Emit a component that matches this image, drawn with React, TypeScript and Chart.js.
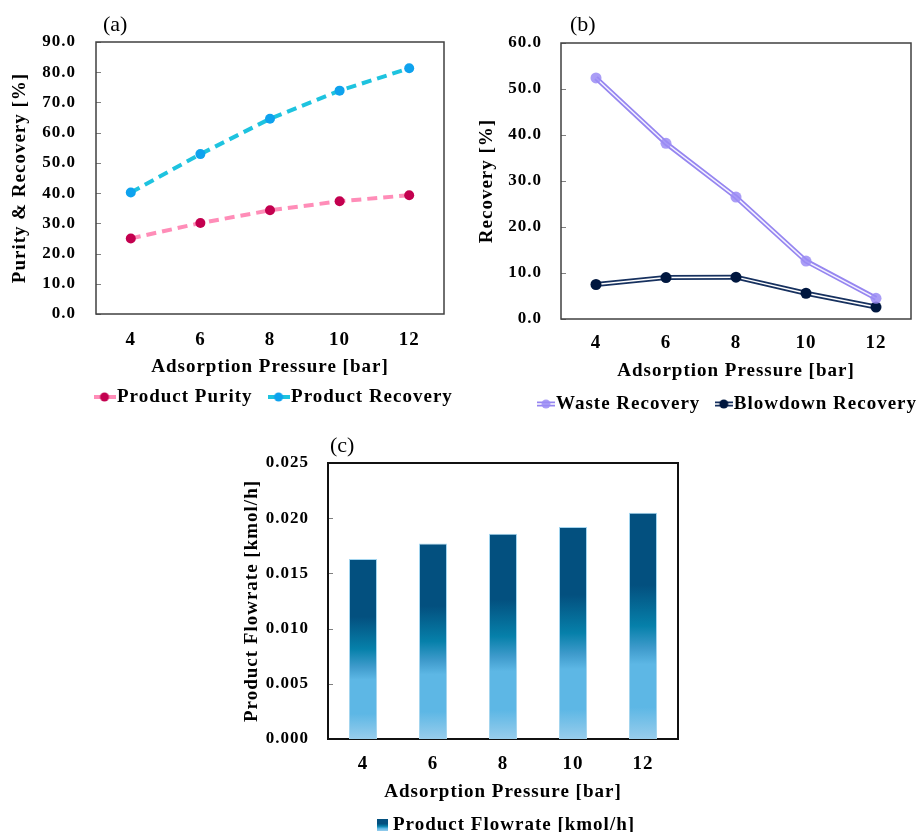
import React, { useEffect, useRef } from "react";
import { Chart, registerables } from "chart.js";

Chart.register(...registerables);

// ---------- data ----------
const pressures = ["4", "6", "8", "10", "12"];
const productPurity = [25.0, 30.1, 34.3, 37.3, 39.3];
const productRecovery = [40.2, 52.9, 64.6, 73.9, 81.3];
const wasteRecovery = [52.4, 38.2, 26.5, 12.6, 4.5];
const blowdownRecovery = [7.5, 9.0, 9.1, 5.6, 2.6];
const productFlowrate = [0.0163, 0.0177, 0.0186, 0.0192, 0.0205];

const xTitle = "Adsorption Pressure [bar]";
const yTitleA = "Purity & Recovery [%]";
const yTitleB = "Recovery [%]";
const yTitleC = "Product Flowrate [kmol/h]";

const FONT = "'Liberation Serif', 'Times New Roman', serif";

// ---------- helpers ----------
function markerLine(color: string, dot: string, w: number, h: number, double: boolean) {
  const c = document.createElement("canvas");
  c.width = w;
  c.height = h;
  const g = c.getContext("2d")!;
  const cy = h / 2;
  g.lineCap = "butt";
  g.strokeStyle = color;
  g.lineWidth = double ? 5 : 4;
  g.beginPath();
  g.moveTo(0, cy);
  g.lineTo(w, cy);
  g.stroke();
  if (double) {
    g.strokeStyle = "#ffffff";
    g.lineWidth = 1.5;
    g.beginPath();
    g.moveTo(0, cy);
    g.lineTo(w, cy);
    g.stroke();
  }
  g.fillStyle = dot;
  g.beginPath();
  g.arc(w / 2, cy, 4.5, 0, Math.PI * 2);
  g.fill();
  return c;
}

function markerSquare() {
  const c = document.createElement("canvas");
  c.width = 11;
  c.height = 12;
  const g = c.getContext("2d")!;
  const gr = g.createLinearGradient(0, 0, 0, 12);
  gr.addColorStop(0, "#03507F");
  gr.addColorStop(0.4, "#03507F");
  gr.addColorStop(0.6, "#0680AA");
  gr.addColorStop(0.8, "#5DB7E5");
  gr.addColorStop(1, "#98CDEC");
  g.fillStyle = gr;
  g.fillRect(0, 0, 11, 12);
  return c;
}

const panelPlugin = {
  id: "panel",
  beforeLayout(chart: any) {
    chart.ctx.letterSpacing = "1px";
  },
  beforeDraw(chart: any) {
    chart.ctx.letterSpacing = "1px";
  },
  afterLayout(chart: any, _a: any, opts: any) {
    const lg = chart.legend;
    if (!lg || !lg.lineWidths) return;
    const pad = lg.options.labels.padding;
    const fs = lg.options.labels.font.size;
    const curX = (lg.left + pad + lg.right - lg.lineWidths[0]) / 2;
    const dx = opts.legendStart - curX;
    lg.left += dx;
    lg.right += dx;
    const curY = lg.top + pad + fs / 2;
    const dy = opts.legendY - curY;
    lg.top += dy;
    lg.bottom += dy;
  },
  beforeDatasetsDraw(chart: any, _a: any, opts: any) {
    const { ctx, chartArea } = chart;
    const ys = chart.scales.y;
    ctx.save();
    ctx.strokeStyle = opts.tickColor;
    ctx.lineWidth = 1;
    ys.ticks.forEach((t: any) => {
      const py = Math.round(ys.getPixelForValue(t.value)) + 0.5;
      ctx.beginPath();
      ctx.moveTo(chartArea.left, py);
      ctx.lineTo(chartArea.left + 5, py);
      ctx.stroke();
    });
    ctx.strokeStyle = opts.frameColor;
    ctx.lineWidth = opts.frameWidth;
    ctx.strokeRect(chartArea.left, chartArea.top, chartArea.right - chartArea.left, chartArea.bottom - chartArea.top);
    ctx.restore();
  },
  afterDraw(chart: any, _a: any, opts: any) {
    const { ctx } = chart;
    ctx.save();
    ctx.letterSpacing = "0px";
    ctx.font = `22px ${FONT}`;
    ctx.fillStyle = "#000";
    ctx.textAlign = "left";
    ctx.textBaseline = "middle";
    ctx.fillText(opts.label, opts.labelX, opts.labelY);
    ctx.restore();
  },
};

function axes(o: {
  yMin: number; yMax: number; yStep: number; dec: number; yTitle: string;
  yWidth: number; yPad: number; yTitlePad: number;
  xHeight: number; xPad: number; xTitlePad: number;
}) {
  return {
    x: {
      offset: true,
      grid: { display: false, drawTicks: false, tickLength: 0 },
      border: { display: false },
      ticks: { color: "#000", padding: o.xPad, font: { family: FONT, size: 19, weight: "bold" } },
      title: {
        display: true, text: xTitle, color: "#000",
        font: { family: FONT, size: 19, weight: "bold" },
        padding: { top: 0, bottom: o.xTitlePad },
      },
      afterFit: (s: any) => { s.height = o.xHeight; },
    },
    y: {
      min: o.yMin, max: o.yMax,
      grid: { display: false, drawTicks: false, tickLength: 0 },
      border: { display: false },
      ticks: {
        stepSize: o.yStep, color: "#000", padding: o.yPad,
        font: { family: FONT, size: 17, weight: "bold" },
        callback: (v: any) => Number(v).toFixed(o.dec),
      },
      title: {
        display: true, text: o.yTitle, color: "#000",
        font: { family: FONT, size: 19, weight: "bold" },
        padding: { top: o.yTitlePad, bottom: 0 },
      },
      afterFit: (s: any) => { s.width = o.yWidth; },
    },
  };
}

function legendOpts(items: { text: string; img: HTMLCanvasElement }[], bw: number, pad: number) {
  return {
    display: true,
    position: "bottom",
    labels: {
      usePointStyle: true,
      pointStyleWidth: bw,
      padding: pad,
      color: "#000",
      font: { family: FONT, size: 19, weight: "bold" },
      generateLabels: () =>
        items.map((it, i) => ({
          text: it.text, pointStyle: it.img, fillStyle: "transparent", strokeStyle: "transparent",
          lineWidth: 0, hidden: false, datasetIndex: i, fontColor: "#000",
        })),
    },
  };
}

// ---------- chart (a) ----------
function ChartA() {
  const ref = useRef<HTMLCanvasElement>(null);
  useEffect(() => {
    const chart = new Chart(ref.current!, {
      type: "line",
      data: {
        labels: pressures,
        datasets: [
          {
            label: "Product Purity", data: productPurity,
            borderColor: "#FF8DB8", borderWidth: 4, borderDash: [10, 6],
            pointRadius: 5, pointBackgroundColor: "#C3004F", pointBorderWidth: 0,
          },
          {
            label: "Product Recovery", data: productRecovery,
            borderColor: "#1EC3DF", borderWidth: 4, borderDash: [10, 6],
            pointRadius: 5, pointBackgroundColor: "#0EA2EE", pointBorderWidth: 0,
          },
        ],
      } as any,
      options: {
        animation: false, responsive: false, maintainAspectRatio: false,
        layout: { padding: { left: 0, right: 16, top: 42, bottom: 0 } },
        scales: axes({
          yMin: 0, yMax: 90, yStep: 10, dec: 1, yTitle: yTitleA,
          yWidth: 96, yPad: 20, yTitlePad: 8.6,
          xHeight: 84, xPad: 14.6, xTitlePad: 19.6,
        }) as any,
        plugins: {
          legend: legendOpts([
            { text: "Product Purity", img: markerLine("#FF8DB8", "#C3004F", 22, 12, false) },
            { text: "Product Recovery", img: markerLine("#1EC3DF", "#0EA2EE", 22, 12, false) },
          ], 6, 23) as any,
          tooltip: { enabled: false },
          panel: {
            label: "(a)", labelX: 103, labelY: 25, legendStart: 101.5, legendY: 397,
            tickColor: "#7f7f7f", frameColor: "#404040", frameWidth: 1.5,
          },
        } as any,
      },
      plugins: [panelPlugin as any],
    });
    return () => chart.destroy();
  }, []);
  return <canvas ref={ref} width={460} height={450} style={{ position: "absolute", left: 0, top: 0, width: 460, height: 450 }} />;
}

// ---------- chart (b) ----------
function ChartB() {
  const ref = useRef<HTMLCanvasElement>(null);
  useEffect(() => {
    const wasteOuter = "#9686F0";
    const wasteDot = "rgba(155,140,245,0.85)";
    const blowOuter = "#17315F";
    const blowDot = "#00173F";
    const chart = new Chart(ref.current!, {
      type: "line",
      data: {
        labels: pressures,
        datasets: [
          { label: "Waste Recovery", data: wasteRecovery, showLine: false, pointRadius: 5.5, pointBackgroundColor: wasteDot, pointBorderWidth: 0 },
          { label: "wi", data: wasteRecovery, borderColor: "#F4F2FF", borderWidth: 1.5, pointRadius: 0 },
          { label: "wo", data: wasteRecovery, borderColor: wasteOuter, borderWidth: 5, pointRadius: 0 },
          { label: "Blowdown Recovery", data: blowdownRecovery, showLine: false, pointRadius: 5.5, pointBackgroundColor: blowDot, pointBorderWidth: 0 },
          { label: "bi", data: blowdownRecovery, borderColor: "#ffffff", borderWidth: 1.5, pointRadius: 0 },
          { label: "bo", data: blowdownRecovery, borderColor: blowOuter, borderWidth: 5, pointRadius: 0 },
        ],
      } as any,
      options: {
        animation: false, responsive: false, maintainAspectRatio: false,
        layout: { padding: { left: 0, right: 8, top: 43, bottom: 0 } },
        scales: axes({
          yMin: 0, yMax: 60, yStep: 10, dec: 1, yTitle: yTitleB,
          yWidth: 101, yPad: 19, yTitlePad: 15.6,
          xHeight: 79, xPad: 12.6, xTitlePad: 15.6,
        }) as any,
        plugins: {
          legend: legendOpts([
            { text: "Waste Recovery", img: markerLine(wasteOuter, wasteDot, 18, 12, true) },
            { text: "Blowdown Recovery", img: markerLine(blowOuter, blowDot, 18, 12, true) },
          ], 1, 23) as any,
          tooltip: { enabled: false },
          panel: {
            label: "(b)", labelX: 110, labelY: 25, legendStart: 85.5, legendY: 404,
            tickColor: "#7f7f7f", frameColor: "#404040", frameWidth: 1.5,
          },
        } as any,
      },
      plugins: [panelPlugin as any],
    });
    return () => chart.destroy();
  }, []);
  return <canvas ref={ref} width={459} height={450} style={{ position: "absolute", left: 460, top: 0, width: 459, height: 450 }} />;
}

// ---------- chart (c) ----------
function ChartC() {
  const ref = useRef<HTMLCanvasElement>(null);
  useEffect(() => {
    const chart = new Chart(ref.current!, {
      type: "bar",
      data: {
        labels: pressures,
        datasets: [
          {
            label: "Product Flowrate [kmol/h]", data: productFlowrate,
            barPercentage: 0.8, categoryPercentage: 0.5,
            borderColor: "#A3D5EF", borderWidth: 1,
            backgroundColor: (c: any) => {
              const ch = c.chart;
              const ys = ch.scales && ch.scales.y;
              if (!ch.chartArea || !ys || c.type !== "data") return "#03507F";
              const top = ys.getPixelForValue(c.raw);
              const bottom = ys.getPixelForValue(0);
              const g = ch.ctx.createLinearGradient(0, top, 0, bottom);
              g.addColorStop(0, "#03507F");
              g.addColorStop(0.32, "#03507F");
              g.addColorStop(0.5, "#0680AA");
              g.addColorStop(0.6, "#3F9BCC");
              g.addColorStop(0.67, "#5DB7E5");
              g.addColorStop(0.86, "#5DB7E5");
              g.addColorStop(1, "#98CDEC");
              return g;
            },
          },
        ],
      } as any,
      options: {
        animation: false, responsive: false, maintainAspectRatio: false,
        layout: { padding: { left: 0, right: 12, top: 33, bottom: 0 } },
        scales: axes({
          yMin: 0, yMax: 0.025, yStep: 0.005, dec: 3, yTitle: yTitleC,
          yWidth: 98, yPad: 19, yTitlePad: 10.6,
          xHeight: 67, xPad: 13.6, xTitlePad: 2.6,
        }) as any,
        plugins: {
          legend: legendOpts([
            { text: "Product Flowrate [kmol/h]", img: markerSquare() },
          ], 2, 10) as any,
          tooltip: { enabled: false },
          panel: {
            label: "(c)", labelX: 100, labelY: 16, legendStart: 151.5, legendY: 395,
            tickColor: "#7f7f7f", frameColor: "#111111", frameWidth: 2,
          },
        } as any,
      },
      plugins: [panelPlugin as any],
    });
    return () => chart.destroy();
  }, []);
  return <canvas ref={ref} width={460} height={415} style={{ position: "absolute", left: 230, top: 430, width: 460, height: 415 }} />;
}

export default function App() {
  return (
    <div style={{ position: "fixed", left: 0, top: 0, width: 919, height: 832, overflow: "hidden", background: "#fff" }}>
      <ChartA />
      <ChartB />
      <ChartC />
    </div>
  );
}
